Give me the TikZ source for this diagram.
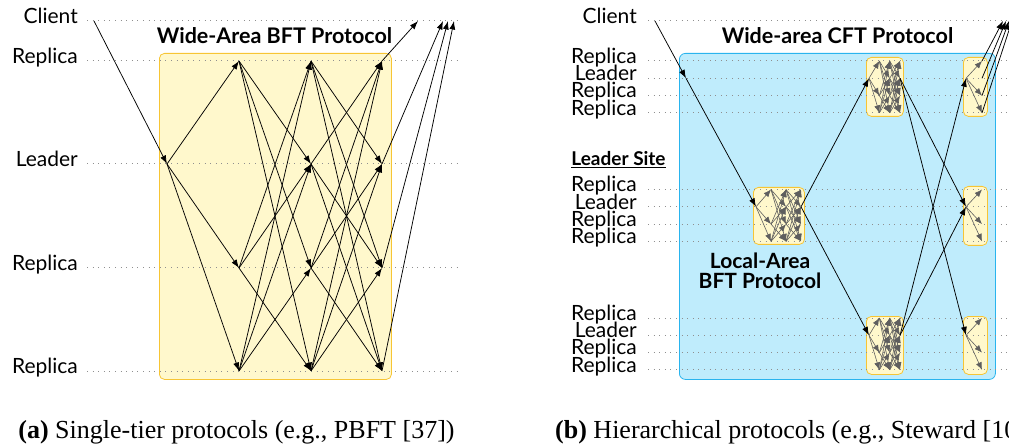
\documentclass[tikz,border=0pt]{standalone}
\usepackage{fontspec}
\setmainfont{Liberation Serif}
\newfontfamily\lato{Lato}
\usetikzlibrary{arrows.meta}
\definecolor{boxyellow}{HTML}{FFF8CC}
\definecolor{boxgold}{HTML}{F7C534}
\definecolor{wanfill}{HTML}{BFECFC}
\definecolor{wanedge}{HTML}{29B4EE}
\definecolor{msggray}{HTML}{5E5E5E}
\definecolor{dotgray}{HTML}{8F8F8F}
\tikzset{
  msg/.style={line width=0.75pt, -{Latex[length=8.5pt,width=6pt]}},
  lmsg/.style={line width=0.6pt, msggray, -{Latex[length=7.5pt,width=6pt]}},
  timeline/.style={dotgray, line width=1pt, dash pattern=on 1pt off 4.6pt},
  rowlabel/.style={anchor=mid east, font=\lato\fontsize{21}{21}\selectfont, inner sep=0pt},
  titletext/.style={anchor=base, font=\lato\bfseries\fontsize{21.5}{21.5}\selectfont, inner sep=0pt},
  phasebox/.style={draw=boxgold, fill=boxyellow, line width=0.8pt, rounded corners=5pt},
  wanbox/.style={draw=wanedge, fill=wanfill, line width=0.8pt, rounded corners=6pt},
  captext/.style={anchor=base, font=\fontsize{26}{26}\selectfont, inner sep=0pt},
}
% mini BFT protocol inside a site box: name, x-left, width, y of top row
\newcommand\minibft[4]{%
  \begin{scope}[shift={(#2,#4)}]
    \foreach \c in {0,1,2,3}{%
      \foreach \r in {1,2,3,4}{%
        \coordinate (#1-\c-\r) at ({3+\c*(#3-6)/3},{(\r-1)*17.3});
      }}
  \end{scope}
  \foreach \r in {1,3,4} \draw[lmsg] (#1-0-2) -- (#1-1-\r);
  \foreach \s in {1,3,4}{\foreach \r in {1,2,3,4}{\ifnum\s=\r\else\draw[lmsg] (#1-1-\s) -- (#1-2-\r);\fi}}
  \foreach \s in {1,2,3,4}{\foreach \r in {1,2,3,4}{\ifnum\s=\r\else\draw[lmsg] (#1-2-\s) -- (#1-3-\r);\fi}}
}
% mini CFT step inside a site box: name, x-left, y of top row
\newcommand\minicft[3]{%
  \begin{scope}[shift={(#2,#3)}]
    \foreach \r in {1,2,3,4}{%
      \coordinate (#1-0-\r) at (3,{(\r-1)*17.3});
      \coordinate (#1-1-\r) at (19,{(\r-1)*17.3});
    }
  \end{scope}
  \foreach \r in {1,3,4} \draw[lmsg] (#1-0-2) -- (#1-1-\r);
}
\begin{document}
\begin{tikzpicture}[x=1pt,y=-1pt]
\useasboundingbox (0,0) rectangle (1009,446);

% ================= (a) single tier =================
\node[phasebox, minimum width=232pt, minimum height=326pt, anchor=north west, inner sep=0pt] (bftbox) at (159,53) {};
\node[titletext] (bfttitle) at (274.5,44) {Wide-Area BFT Protocol};

\foreach \nm/\yy/\tx in {ac/21/Client, a1/61/Replica, a2/164/Leader, a3/268/Replica, a4/371/Replica}{%
  \node[rowlabel] (lab-\nm) at (78,\yy) {\tx};
  \coordinate (tlS-\nm) at (87,\yy);
  \coordinate (tlE-\nm) at (461,\yy);
  \draw[timeline] (tlS-\nm) -- (tlE-\nm);
}

% process points
\coordinate (aclient) at (94,21);
\coordinate (P-0-2) at (167,164);
\foreach \c/\xx in {1/239,2/311,3/382}{%
  \foreach \r/\yy in {1/61,2/164,3/268,4/371}{%
    \coordinate (P-\c-\r) at (\xx,\yy);
  }}
\coordinate (rep-1) at (418,21);
\coordinate (rep-2) at (443,21);
\coordinate (rep-3) at (448,21);
\coordinate (rep-4) at (454,21);

\draw[msg] (aclient) -- (P-0-2);
\foreach \r in {1,3,4} \draw[msg] (P-0-2) -- (P-1-\r);
\foreach \s in {1,3,4}{\foreach \r in {1,2,3,4}{\ifnum\s=\r\else\draw[msg] (P-1-\s) -- (P-2-\r);\fi}}
\foreach \s in {1,2,3,4}{\foreach \r in {1,2,3,4}{\ifnum\s=\r\else\draw[msg] (P-2-\s) -- (P-3-\r);\fi}}
\foreach \r in {1,2,3,4} \draw[msg] (P-3-\r) -- (rep-\r);

\node[captext] (capa) at (236.5,438) {\textbf{(a)} Single-tier protocols (e.g., PBFT [37])};

% ================= (b) hierarchical =================
\node[wanbox, minimum width=316pt, minimum height=326pt, anchor=north west, inner sep=0pt] (wan) at (679,53) {};
\node[titletext] (wantitle) at (837.5,43.5) {Wide-area CFT Protocol};

\node[phasebox, minimum width=51pt, minimum height=57pt, anchor=north west, inner sep=0pt] (boxA) at (753,187) {};
\node[phasebox, minimum width=37pt, minimum height=59pt, anchor=north west, inner sep=0pt] (boxB1) at (866,57) {};
\node[phasebox, minimum width=37pt, minimum height=58pt, anchor=north west, inner sep=0pt] (boxB3) at (866,316) {};
\node[phasebox, minimum width=24pt, minimum height=59pt, anchor=north west, inner sep=0pt] (boxC1) at (963,57) {};
\node[phasebox, minimum width=24pt, minimum height=59pt, anchor=north west, inner sep=0pt] (boxC2) at (963,186) {};
\node[phasebox, minimum width=24pt, minimum height=58pt, anchor=north west, inner sep=0pt] (boxC3) at (963,316) {};

\node[rowlabel] (labbc) at (637,21) {Client};
\coordinate (tlbS-c) at (648,21);
\coordinate (tlbE-c) at (1012,21);
\draw[timeline] (tlbS-c) -- (tlbE-c);
\foreach \s/\top in {1/61,2/189.5,3/318}{%
  \foreach \r/\tx in {1/Replica,2/Leader,3/Replica,4/Replica}{%
    \node[rowlabel] (labb-\s-\r) at (637,{\top+(\r-1)*17.3}) {\tx};
    \coordinate (tlbS-\s-\r) at (648,{\top+(\r-1)*17.3});
    \coordinate (tlbE-\s-\r) at (1012,{\top+(\r-1)*17.3});
    \draw[timeline] (tlbS-\s-\r) -- (tlbE-\s-\r);
  }}
\node[anchor=base, font=\lato\bfseries\fontsize{19}{19}\selectfont, inner sep=0pt] (leadsite) at (618.5,165.5) {\underline{Leader Site}};
\node[anchor=base, align=center, font=\lato\bfseries\fontsize{21}{20}\selectfont, inner sep=0pt] (localarea) at (760,288.3) {Local-Area\\BFT Protocol};

\minibft{A}{753}{51}{189.5}
\minibft{B1}{866}{37}{61}
\minibft{B3}{866}{37}{318}
\minicft{C1}{963}{61}
\minicft{C2}{963}{189.5}
\minicft{C3}{963}{318}

\coordinate (bclient) at (655,21);
\coordinate (bentry) at (686,78.3);
\coordinate (brep-1) at (1003,21);
\coordinate (brep-2) at (1006,21);
\coordinate (brep-3) at (1009,21);
\coordinate (brep-4) at (1012,21);

\draw[msg] (bclient) -- (bentry);
\draw[msg] (bentry) -- (A-0-2);
\draw[msg] (A-3-2) -- (B1-0-2);
\draw[msg] (A-3-2) -- (B3-0-2);
\draw[msg] (B1-3-2) -- (C2-0-2);
\draw[msg] (B1-3-2) -- (C3-0-2);
\draw[msg] (B3-3-2) -- (C1-0-2);
\draw[msg] (B3-3-2) -- (C2-0-2);
\foreach \r in {1,2,3,4} \draw[msg] (C1-1-\r) -- (brep-\r);

\node[captext, anchor=base west] (capb) at (555,438) {\textbf{(b)} Hierarchical protocols (e.g., Steward [10])};
\end{tikzpicture}
\end{document}
